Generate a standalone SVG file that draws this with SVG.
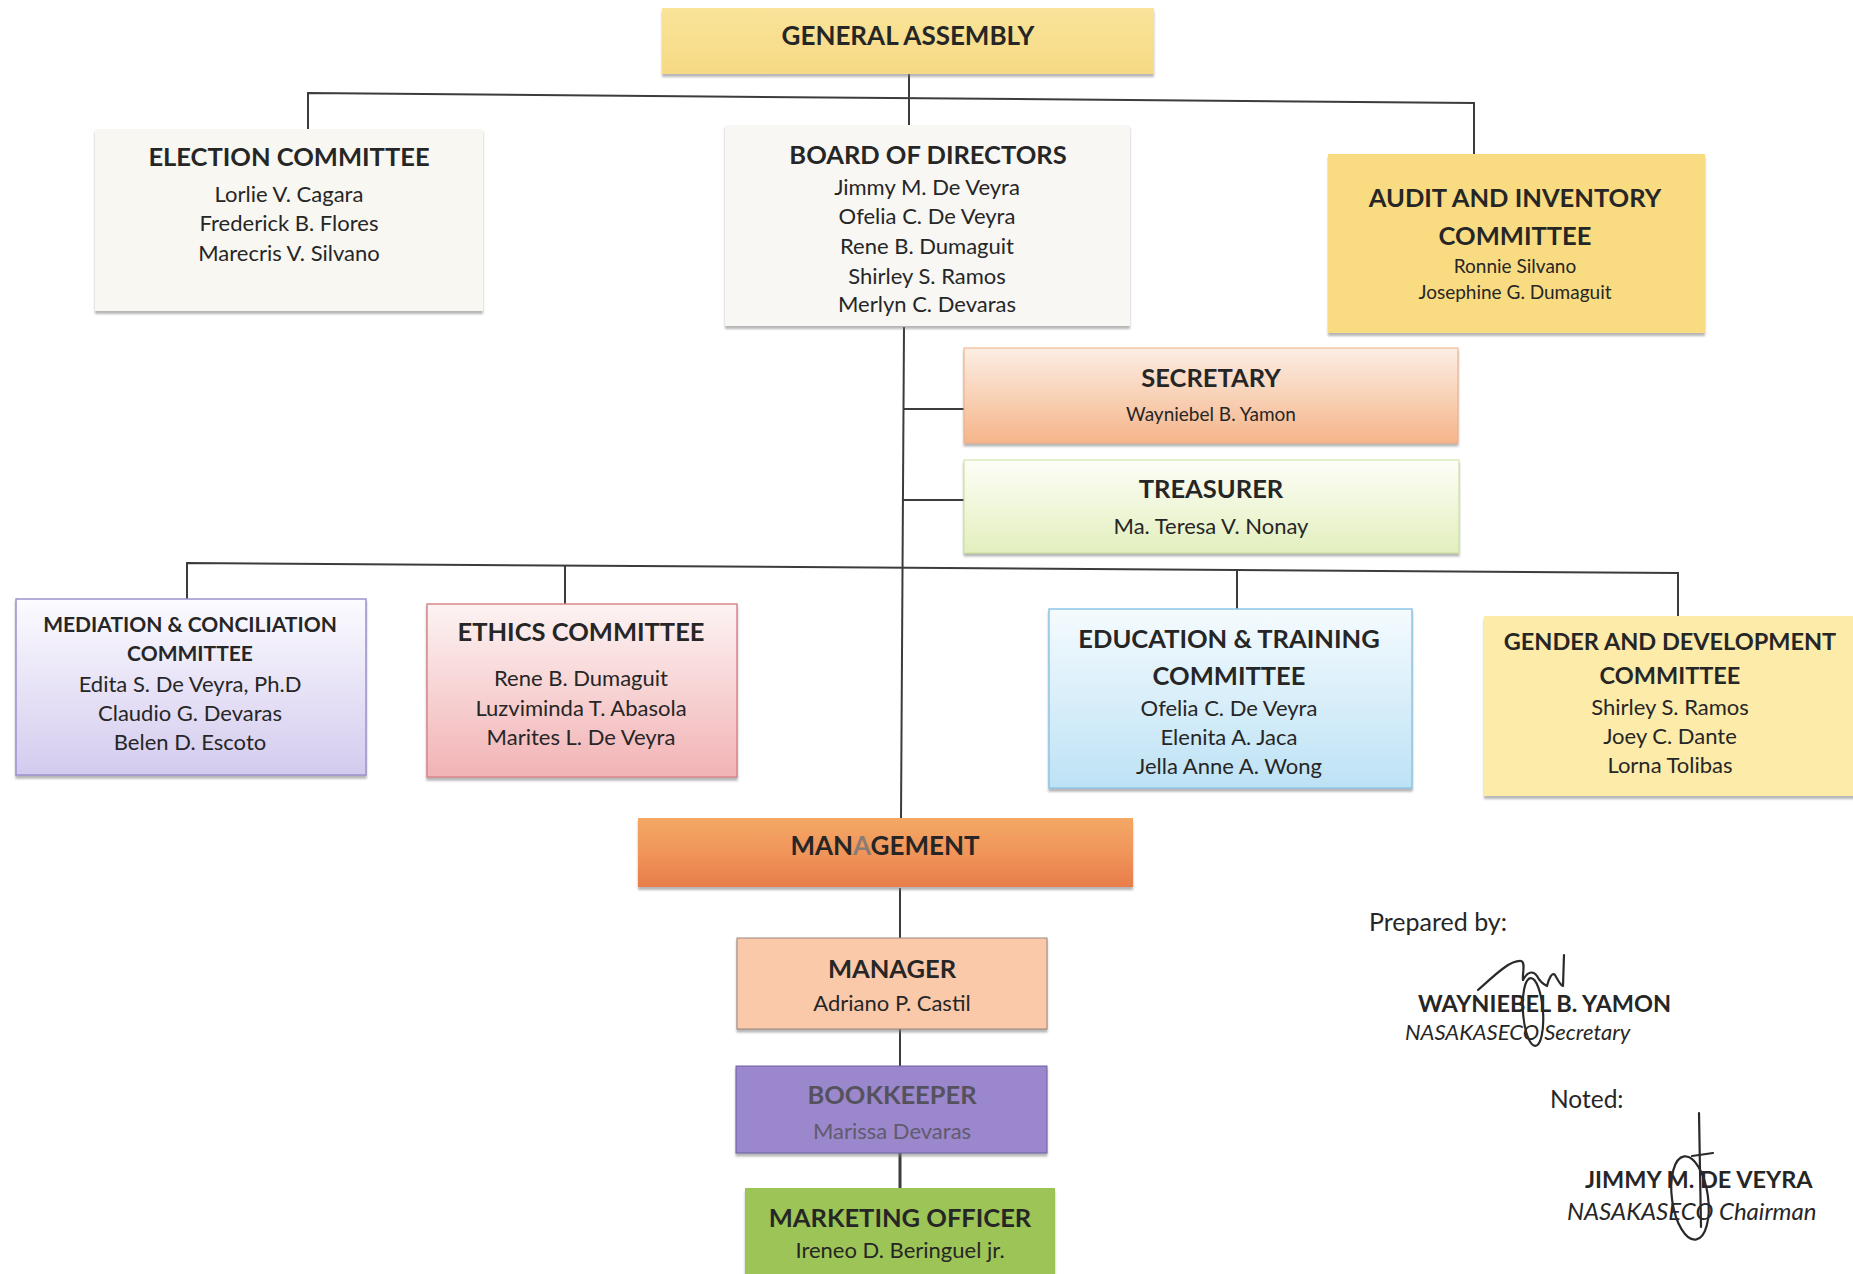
<svg xmlns="http://www.w3.org/2000/svg" width="1853" height="1274" viewBox="0 0 1853 1274">
<defs>
  <linearGradient id="gGA" x1="0" y1="0" x2="0" y2="1"><stop offset="0" stop-color="#FAE49A"/><stop offset="1" stop-color="#F6D984"/></linearGradient>
  <linearGradient id="gSec" x1="0" y1="0" x2="0" y2="1"><stop offset="0" stop-color="#FCEEE4"/><stop offset="1" stop-color="#F5B58A"/></linearGradient>
  <linearGradient id="gTre" x1="0" y1="0" x2="0" y2="1"><stop offset="0" stop-color="#FDFEF7"/><stop offset="1" stop-color="#E3EFBE"/></linearGradient>
  <linearGradient id="gMed" x1="0" y1="0" x2="0" y2="1"><stop offset="0" stop-color="#FCFBFF"/><stop offset="1" stop-color="#D3CBEE"/></linearGradient>
  <linearGradient id="gEth" x1="0" y1="0" x2="0" y2="1"><stop offset="0" stop-color="#FDF3F3"/><stop offset="1" stop-color="#F2B3B5"/></linearGradient>
  <linearGradient id="gEdu" x1="0" y1="0" x2="0" y2="1"><stop offset="0" stop-color="#F5FBFE"/><stop offset="1" stop-color="#BDE2F5"/></linearGradient>
  <linearGradient id="gMgmt" x1="0" y1="0" x2="0" y2="1"><stop offset="0" stop-color="#F4A865"/><stop offset="0.5" stop-color="#F0955A"/><stop offset="1" stop-color="#E87D4A"/></linearGradient>
  <filter id="sh" x="-5%" y="-5%" width="110%" height="120%"><feDropShadow dx="0" dy="3" stdDeviation="1.3" flood-color="#7a7a7a" flood-opacity="0.55"/></filter>
</defs>
<style>
  .t{font-family:Lato,"Liberation Sans",sans-serif;font-weight:700;font-size:25.5px;fill:#262626;text-anchor:middle}
  .ts{font-family:Lato,"Liberation Sans",sans-serif;font-weight:700;font-size:21px;fill:#262626;text-anchor:middle}
  .n{font-family:Lato,"Liberation Sans",sans-serif;font-size:22px;fill:#262626;text-anchor:middle}
  .ns{font-family:Lato,"Liberation Sans",sans-serif;font-size:19px;fill:#262626;text-anchor:middle}
  .p{font-family:Lato,"Liberation Sans",sans-serif;font-size:25px;fill:#262626}
  .pb{font-family:Lato,"Liberation Sans",sans-serif;font-weight:700;font-size:23.5px;fill:#262626}
  .pi{font-family:Lato,"Liberation Sans",sans-serif;font-style:italic;font-size:22px;fill:#262626}
  .c{stroke:#3c3c3c;stroke-width:2;fill:none}
  .sig{stroke:#2a2a2a;stroke-width:2.2;fill:none;stroke-linecap:round;stroke-linejoin:round}
  .box{filter:url(#sh)}
</style>
<rect width="1853" height="1274" fill="#ffffff"/>

<g id="connectors">
  <path class="c" d="M909 74 V125"/>
  <path class="c" d="M308 129 V93 L1474 103 V154"/>
  <path class="c" d="M904 327 L901 818"/>
  <path class="c" d="M903 409 H964"/>
  <path class="c" d="M902 500 H964"/>
  <path class="c" d="M187 600 V563 L1678 573 V616"/>
  <path class="c" d="M565 566 V604"/>
  <path class="c" d="M1237 571 V609"/>
  <path class="c" d="M900 888 V938"/>
  <path class="c" d="M900 1029 V1066"/>
  <path class="c" d="M900 1153 V1188" style="stroke-width:3"/>
</g>

<g id="general-assembly">
  <rect class="box" x="662" y="8" width="492" height="66" fill="url(#gGA)"/>
  <text class="t" x="908" y="45" style="font-size:26px">GENERAL ASSEMBLY</text>
</g>

<g id="election-committee">
  <rect class="box" x="95" y="129" width="388" height="182" fill="#F8F7F2"/>
  <text class="t" x="289" y="166">ELECTION COMMITTEE</text>
  <text class="n" x="289" y="202">Lorlie V. Cagara</text>
  <text class="n" x="289" y="231">Frederick B. Flores</text>
  <text class="n" x="289" y="261">Marecris V. Silvano</text>
</g>

<g id="board-of-directors">
  <rect class="box" x="725" y="125" width="405" height="201" fill="#F8F7F4"/>
  <text class="t" x="928" y="164">BOARD OF DIRECTORS</text>
  <text class="n" x="927" y="195">Jimmy M. De Veyra</text>
  <text class="n" x="927" y="224">Ofelia C. De Veyra</text>
  <text class="n" x="927" y="254">Rene B. Dumaguit</text>
  <text class="n" x="927" y="284">Shirley S. Ramos</text>
  <text class="n" x="927" y="312">Merlyn C. Devaras</text>
</g>

<g id="audit-committee">
  <rect class="box" x="1328" y="154" width="377" height="179" fill="#F9DB81"/>
  <text class="t" x="1515" y="207">AUDIT AND INVENTORY</text>
  <text class="t" x="1515" y="245">COMMITTEE</text>
  <text class="ns" x="1515" y="273">Ronnie Silvano</text>
  <text class="ns" x="1515" y="299">Josephine G. Dumaguit</text>
</g>

<g id="secretary">
  <rect class="box" x="964" y="348" width="494" height="95" fill="url(#gSec)" stroke="#F0AD84" stroke-width="1"/>
  <text class="t" x="1211" y="387">SECRETARY</text>
  <text class="ns" x="1211" y="421">Wayniebel B. Yamon</text>
</g>

<g id="treasurer">
  <rect class="box" x="964" y="460" width="495" height="93" fill="url(#gTre)" stroke="#CADF9C" stroke-width="1"/>
  <text class="t" x="1211" y="498">TREASURER</text>
  <text class="n" x="1211" y="534">Ma. Teresa V. Nonay</text>
</g>

<g id="mediation-committee">
  <rect class="box" x="16" y="599" width="350" height="176" fill="url(#gMed)" stroke="#9C92CF" stroke-width="1.5"/>
  <text class="ts" x="190" y="632">MEDIATION &amp; CONCILIATION</text>
  <text class="ts" x="190" y="661">COMMITTEE</text>
  <text class="n" x="190" y="692">Edita S. De Veyra, Ph.D</text>
  <text class="n" x="190" y="721">Claudio G. Devaras</text>
  <text class="n" x="190" y="750">Belen D. Escoto</text>
</g>

<g id="ethics-committee">
  <rect class="box" x="427" y="604" width="310" height="173" fill="url(#gEth)" stroke="#D8868B" stroke-width="1.5"/>
  <text class="t" x="581" y="641">ETHICS COMMITTEE</text>
  <text class="n" x="581" y="686">Rene B. Dumaguit</text>
  <text class="n" x="581" y="716">Luzviminda T. Abasola</text>
  <text class="n" x="581" y="745">Marites L. De Veyra</text>
</g>

<g id="education-committee">
  <rect class="box" x="1049" y="609" width="363" height="179" fill="url(#gEdu)" stroke="#8EC6E6" stroke-width="1.5"/>
  <text class="t" x="1229" y="648">EDUCATION &amp; TRAINING</text>
  <text class="t" x="1229" y="685">COMMITTEE</text>
  <text class="n" x="1229" y="716">Ofelia C. De Veyra</text>
  <text class="n" x="1229" y="745">Elenita A. Jaca</text>
  <text class="n" x="1229" y="774">Jella Anne A. Wong</text>
</g>

<g id="gender-committee">
  <rect class="box" x="1484" y="616" width="380" height="180" fill="#FCEBA9"/>
  <text class="t" x="1670" y="650" style="font-size:23.5px">GENDER AND DEVELOPMENT</text>
  <text class="t" x="1670" y="684" style="font-size:23.5px">COMMITTEE</text>
  <text class="n" x="1670" y="715">Shirley S. Ramos</text>
  <text class="n" x="1670" y="744">Joey C. Dante</text>
  <text class="n" x="1670" y="773">Lorna Tolibas</text>
</g>

<g id="management">
  <rect class="box" x="638" y="818" width="495" height="69" fill="url(#gMgmt)"/>
  <text class="t" x="885" y="855" style="font-size:26px">MAN<tspan fill="#8a7c74">A</tspan>GEMENT</text>
</g>

<g id="manager">
  <rect class="box" x="737" y="938" width="310" height="91" fill="#F9C9AA" stroke="#9C857A" stroke-width="1"/>
  <text class="t" x="892" y="978">MANAGER</text>
  <text class="n" x="892" y="1011">Adriano P. Castil</text>
</g>

<g id="bookkeeper">
  <rect class="box" x="736" y="1066" width="311" height="87" fill="#9B87CB" stroke="#6F5FA8" stroke-width="1"/>
  <text class="t" x="892" y="1104" style="fill:#55525e">BOOKKEEPER</text>
  <text class="n" x="892" y="1139" style="fill:#625a6e">Marissa Devaras</text>
</g>

<g id="marketing-officer">
  <rect class="box" x="745" y="1188" width="310" height="92" fill="#9DC457"/>
  <text class="t" x="900" y="1227">MARKETING OFFICER</text>
  <text class="n" x="900" y="1258">Ireneo D. Beringuel jr.</text>
</g>

<g id="signatures">
  <text class="p" x="1369" y="931">Prepared by:</text>
  <text class="pb" x="1418" y="1012">WAYNIEBEL B. YAMON</text>
  <text class="pi" x="1405" y="1040">NASAKASECO Secretary</text>
  <path class="sig" d="M1478 990 C1495 975 1510 960 1521 961 C1526 962 1522 975 1523 980 C1527 972 1533 970 1537 976 C1540 982 1543 984 1547 986 C1549 978 1552 972 1555 975 C1558 980 1560 985 1563 986 L1564 955"/>
  <ellipse class="sig" cx="1533" cy="1012" rx="10" ry="34" transform="rotate(-4 1533 1012)"/>
  <text class="p" x="1550" y="1108" style="font-size:24.5px">Noted:</text>
  <text class="pb" x="1585" y="1188">JIMMY M. DE VEYRA</text>
  <text class="pi" x="1567" y="1220" style="font-size:24px">NASAKASECO Chairman</text>
  <path class="sig" d="M1699 1113 L1701 1227"/>
  <path class="sig" d="M1692 1156 L1713 1153"/>
  <ellipse class="sig" cx="1690" cy="1198" rx="18" ry="42" transform="rotate(-8 1690 1198)"/>
</g>
</svg>
